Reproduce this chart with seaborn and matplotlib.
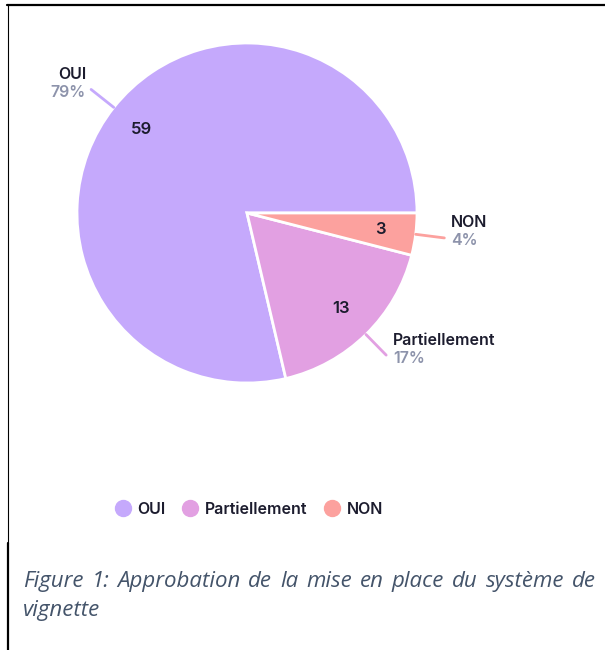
import matplotlib
matplotlib.use("Agg")
import matplotlib.pyplot as plt
from matplotlib.lines import Line2D
import numpy as np
import seaborn as sns

# données
categories = ["OUI", "Partiellement", "NON"]
counts = [59, 13, 3]
colors = ["#c5a9fc", "#e2a0e2", "#fca19e"]
caption_line1 = "Figure 1: Approbation de la mise en place du système de"
caption_line2 = "vignette"

sns.set_theme(style="white")
plt.rcParams["font.family"] = ["Inter", "DejaVu Sans"]

W, H = 605, 650
fig = plt.figure(figsize=(W / 100, H / 100), dpi=100)
fig.patch.set_facecolor("white")

# camembert: centre et rayon en pixels
cx, cy, r = 247, 213, 170
ax = fig.add_axes([(cx - r) / W, 1 - (cy + r) / H, 2 * r / W, 2 * r / H])
total = sum(counts)
wedges, _, autotexts = ax.pie(
    counts, colors=colors, startangle=0, counterclock=True,
    autopct=lambda p: f"{round(p * total / 100)}", pctdistance=0.79,
    wedgeprops=dict(edgecolor="white", linewidth=2),
    textprops=dict(fontsize=12, color="#1c1c2e", fontweight="semibold"))
ax.set_xlim(-1, 1)
ax.set_ylim(-1, 1)
ax.set_aspect("equal")
ax.axis("off")

px = 1 / r
for w, cat, n in zip(wedges, categories, counts):
    ang = np.deg2rad((w.theta1 + w.theta2) / 2)
    c, s = np.cos(ang), np.sin(ang)
    x1, y1 = 1.17 * c, 1.17 * s
    ax.plot([1.0 * c, x1], [1.0 * s, y1], color=w.get_facecolor(), lw=2,
            clip_on=False, solid_capstyle="round")
    if c < 0:
        tx, ha = x1 - 5 * px, "right"
    else:
        tx, ha = x1 + 7 * px, "left"
    ax.text(tx, y1 + 15 * px, cat, ha=ha, va="center", fontsize=11.5,
            color="#1c1c2e", fontweight="semibold", clip_on=False)
    ax.text(tx, y1 - 3 * px, f"{round(100 * n / total)}%", ha=ha, va="center",
            fontsize=11.5, color="#8d93ab", fontweight="semibold", clip_on=False)

# légende
handles = [Line2D([], [], marker="o", ls="", markersize=11.5,
                  markerfacecolor=col, markeredgecolor=col) for col in colors]
leg = fig.legend(handles, categories, loc="center",
                 bbox_to_anchor=(249 / W, 1 - 509 / H), ncol=3, frameon=False,
                 fontsize=11.5, handletextpad=0.4, columnspacing=1.05,
                 handlelength=1.0)
for t in leg.get_texts():
    t.set_color("#1c1c2e")
    t.set_fontweight("semibold")

# légende de figure (texte justifié)
cap_font = dict(family=["Open Sans", "DejaVu Sans"], style="italic",
                fontsize=16, color="#44546a")
renderer = fig.canvas.get_renderer()
x_left, x_right = 23 / W, 596 / W
words = caption_line1.split()
texts = [fig.text(0, 1 - 587 / H, wd, va="baseline", **cap_font) for wd in words]
widths = [t.get_window_extent(renderer).width / W for t in texts]
gap = (x_right - x_left - sum(widths)) / (len(words) - 1)
x = x_left
for t, wd in zip(texts, widths):
    t.set_x(x)
    x += wd + gap
fig.text(x_left, 1 - 616 / H, caption_line2, va="baseline", **cap_font)

# bordures
fig.add_artist(Line2D([7 / W, 1], [1 - 5 / H, 1 - 5 / H], color="black", lw=1.6))
fig.add_artist(Line2D([7.5 / W, 7.5 / W], [1 - 5 / H, 1 - 543 / H], color="black", lw=0.8))
fig.add_artist(Line2D([8 / W, 8 / W], [1 - 543 / H, 0], color="black", lw=1.6))

fig.savefig("out.png", dpi=100)
